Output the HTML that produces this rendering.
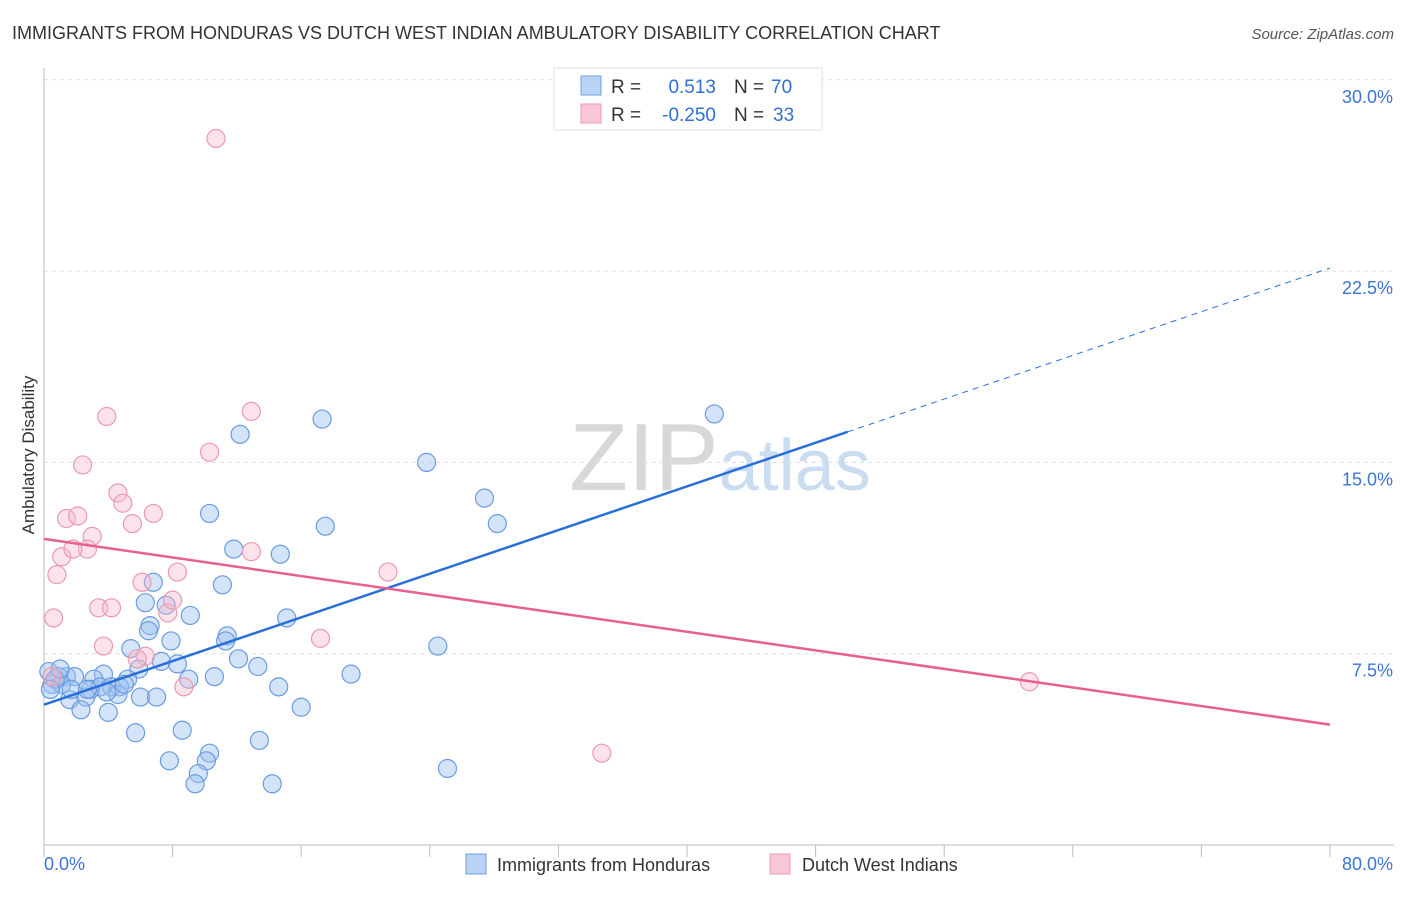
<!DOCTYPE html>
<html><head><meta charset="utf-8"><style>
body{margin:0;background:#fff;font-family:"Liberation Sans",sans-serif}
svg text{font-family:"Liberation Sans",sans-serif}
</style></head><body>
<svg id="chart" width="1406" height="892" xmlns="http://www.w3.org/2000/svg">
<text x="12" y="39" font-size="18" fill="#333">IMMIGRANTS FROM HONDURAS VS DUTCH WEST INDIAN AMBULATORY DISABILITY CORRELATION CHART</text>
<text x="1394" y="39" font-size="15" fill="#555" text-anchor="end" font-style="italic">Source: ZipAtlas.com</text>
<text x="720" y="490" font-size="96" fill="#ddd" text-anchor="middle" font-family="Liberation Serif"><tspan fill="#d8d8d8">ZIP</tspan><tspan fill="#c9dcf0" font-family="Liberation Sans" font-size="72">atlas</tspan></text>
<g id="grid"></g>
<g id="axes"></g>
<g id="points"></g>
<g id="trends"></g>
<text transform="translate(34,455) rotate(-90)" font-size="17" fill="#333" text-anchor="middle">Ambulatory Disability</text>
<g>
<rect x="554" y="68" width="268" height="62" fill="#fff" stroke="#ddd"/>
<rect x="581" y="76" width="20" height="19" fill="#b9d3f5" stroke="#6f9fe0"/>
<rect x="581" y="104" width="20" height="19" fill="#f9c6d5" stroke="#ec9ab3"/>
<text x="611" y="93" font-size="19" fill="#333">R =</text><text x="716" y="93" font-size="19" fill="#2f6fd6" text-anchor="end">0.513</text>
<text x="734" y="93" font-size="19" fill="#333">N =</text><text x="771" y="93" font-size="19" fill="#2f6fd6">70</text>
<text x="611" y="121" font-size="19" fill="#333">R =</text><text x="716" y="121" font-size="19" fill="#2f6fd6" text-anchor="end">-0.250</text>
<text x="734" y="121" font-size="19" fill="#333">N =</text><text x="773" y="121" font-size="19" fill="#2f6fd6">33</text>
</g>
<g>
<rect x="466" y="854" width="20" height="20" fill="#b9d3f5" stroke="#6f9fe0"/>
<text x="497" y="871" font-size="18" fill="#333">Immigrants from Honduras</text>
<rect x="770" y="854" width="20" height="20" fill="#f9c6d5" stroke="#ec9ab3"/>
<text x="802" y="871" font-size="18" fill="#333">Dutch West Indians</text>
</g>
</svg>
<script>
const blueX=[17.3,41.7,12.2,23.8,27.4,10.3,17.5,28.2,11.8,14.7,6.8,11.1,6.3,7.6,9.1,15.1,6.6,6.5,7.9,11.4,11.3,5.4,24.5,7.3,8.3,5.9,13.3,12.1,19.1,3.7,3.1,10.6,9.0,5.2,1.4,1.9,0.9,0.3,0.5,1.1,2.9,3.5,4.2,4.7,4.6,6.0,7.0,1.6,2.6,14.6,16.0,2.3,4.0,5.7,8.6,13.4,10.3,7.8,10.1,9.6,9.4,14.2,25.1,0.7,1.0,1.7,5.0,0.4,2.7,3.9];
const blueY=[16.7,16.9,16.1,15.0,13.6,13.0,12.5,12.6,11.6,11.4,10.3,10.2,9.5,9.4,9.0,8.9,8.6,8.4,8.0,8.2,8.0,7.7,7.8,7.2,7.1,6.9,7.0,7.3,6.7,6.7,6.5,6.6,6.5,6.5,6.6,6.6,6.6,6.8,6.3,6.3,6.1,6.2,6.2,6.2,5.9,5.8,5.8,5.7,5.8,6.2,5.4,5.3,5.2,4.4,4.5,4.1,3.6,3.3,3.3,2.8,2.4,2.4,3.0,6.5,6.9,6.1,6.3,6.1,6.1,6.0];
const pinkX=[10.7,3.9,12.9,2.4,10.3,4.6,4.9,6.8,1.4,2.1,3.0,5.5,1.1,2.7,1.8,12.9,0.8,6.1,8.3,21.4,0.6,3.4,4.2,7.7,8.0,3.7,17.2,6.3,5.8,8.7,61.3,34.7,0.5];
const pinkY=[27.7,16.8,17.0,14.9,15.4,13.8,13.4,13.0,12.8,12.9,12.1,12.6,11.3,11.6,11.6,11.5,10.6,10.3,10.7,10.7,8.9,9.3,9.3,9.1,9.6,7.8,8.1,7.4,7.3,6.2,6.4,3.6,6.6];
const trendBlue=[5.5,0.214];   // intercept, slope (% per %)
const trendPink=[12.0,-0.091];
const xTicks=[0,8,16,24,32,40,48,56,64,72,80];
const yTicks=[7.5,15,22.5,30];
const yTickLabels=["7.5%","15.0%","22.5%","30.0%"];

const NS="http://www.w3.org/2000/svg";
const X0=44,X1=1330,Y0=845,YS=191.3/7.5;
const sx=v=>X0+(v/80)*(X1-X0);
const sy=v=>Y0-v*YS;
function mk(tag,attrs,parent){const e=document.createElementNS(NS,tag);for(const k in attrs)e.setAttribute(k,attrs[k]);parent.appendChild(e);return e;}
const grid=document.getElementById('grid'),axes=document.getElementById('axes'),pts=document.getElementById('points'),tr=document.getElementById('trends');
yTicks.forEach((t,i)=>{
  const l=mk('line',{x1:X0,x2:1394,y1:sy(t),y2:sy(t),stroke:'#ddd','stroke-dasharray':'4,4'},grid);
  
  
  const tx=mk('text',{x:1393,y:sy(t)+23,'font-size':18,fill:'#3a74d6','text-anchor':'end'},axes);
  tx.textContent=yTickLabels[i];
  
  
});
const ax=mk('line',{x1:X0,x2:1394,y1:Y0,y2:Y0,stroke:'#bbb'},axes);


const ay=mk('line',{x1:X0,x2:X0,y1:68,y2:Y0,stroke:'#bbb'},axes);


xTicks.forEach(t=>{
  const l=mk('line',{x1:sx(t),x2:sx(t),y1:Y0,y2:Y0+12,stroke:'#bbb'},axes);
  
  
});
const xl=mk('text',{x:44,y:870,'font-size':18,fill:'#3a74d6'},axes);xl.textContent='0.0%';


const xr=mk('text',{x:1393,y:870,'font-size':18,fill:'#3a74d6','text-anchor':'end'},axes);xr.textContent='80.0%';


blueX.forEach((v,i)=>{
  const c=mk('circle',{cx:sx(v),cy:sy(blueY[i]),r:9,fill:'rgba(160,196,240,0.45)',stroke:'#6a9be0','stroke-width':1.2},pts);
  
  
});
pinkX.forEach((v,i)=>{
  const c=mk('circle',{cx:sx(v),cy:sy(pinkY[i]),r:9,fill:'rgba(247,185,205,0.4)',stroke:'#eb99b3','stroke-width':1.2},pts);
  
  
});
const fb=x=>trendBlue[0]+trendBlue[1]*x, fp=x=>trendPink[0]+trendPink[1]*x;
const b1=mk('line',{x1:sx(0),y1:sy(fb(0)),x2:sx(50),y2:sy(fb(50)),stroke:'#2a6fd8','stroke-width':2.5},tr);


const b2=mk('line',{x1:sx(50),y1:sy(fb(50)),x2:sx(80),y2:sy(fb(80)),stroke:'#2a6fd8','stroke-width':1,'stroke-dasharray':'6,5'},tr);


const p1=mk('line',{x1:sx(0),y1:sy(fp(0)),x2:sx(80),y2:sy(fp(80)),stroke:'#e8608f','stroke-width':2.5},tr);


</script>
</body></html>
